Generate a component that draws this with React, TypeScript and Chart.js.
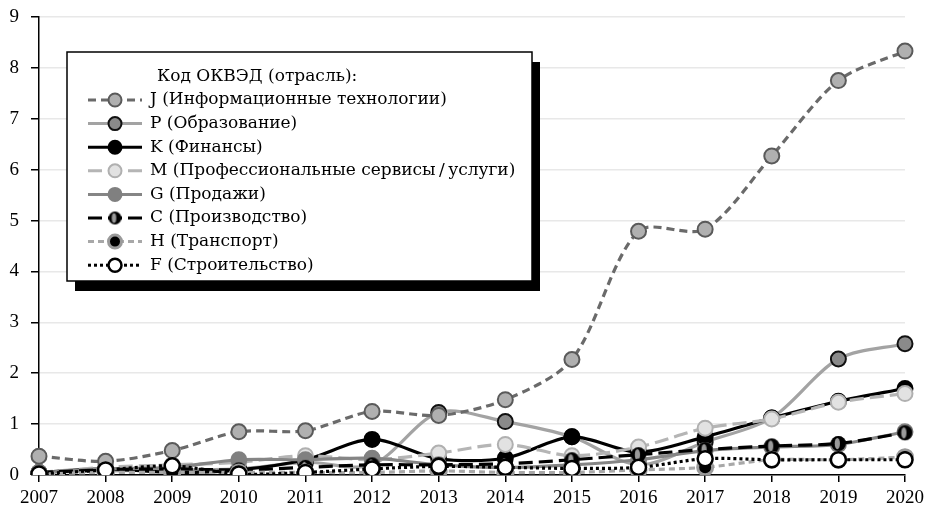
import React, { useEffect, useRef } from "react";
import { Chart, registerables } from "chart.js";

Chart.register(...registerables);

const years = ["2007","2008","2009","2010","2011","2012","2013","2014","2015","2016","2017","2018","2019","2020"];
const yTicks = [0,1,2,3,4,5,6,7,8,9];
const legendTitle = "Код ОКВЭД (отрасль):";

const J = [0.37,0.27,0.48,0.85,0.87,1.25,1.17,1.48,2.27,4.79,4.83,6.27,7.75,8.33];
const P = [0.05,0.08,0.1,0.12,0.25,0.2,1.23,1.05,0.75,0.2,0.65,1.12,2.28,2.58];
const K = [0.05,0.12,0.05,0.1,0.3,0.7,0.32,0.33,0.75,0.45,0.75,1.12,1.45,1.7];
const M = [0.05,0.15,0.2,0.25,0.38,0.3,0.43,0.6,0.38,0.55,0.92,1.1,1.43,1.6];
const G = [0.05,0.12,0.15,0.3,0.3,0.33,0.2,0.15,0.2,0.3,0.48,0.55,0.6,0.85];
const C = [0.05,0.1,0.12,0.1,0.15,0.2,0.2,0.22,0.3,0.4,0.5,0.57,0.62,0.83];
const H = [0.02,0.05,0.05,0.05,0.05,0.05,0.08,0.05,0.05,0.1,0.15,0.3,0.3,0.35];
const F = [0.02,0.1,0.18,0.02,0.05,0.12,0.17,0.15,0.13,0.15,0.32,0.3,0.3,0.3];

const labels = [
  "J (Информационные технологии)",
  "P (Образование)",
  "K (Финансы)",
  "M (Профессиональные сервисы\u2009/\u2009услуги)",
  "G (Продажи)",
  "C (Производство)",
  "H (Транспорт)",
  "F (Строительство)",
];

function makeCPoint(r: number) {
  const c = document.createElement("canvas");
  const s = Math.ceil(r * 2 + 2);
  c.width = s; c.height = s;
  const x = c.getContext("2d")!;
  x.fillStyle = "#000";
  x.beginPath(); x.arc(s / 2, s / 2, r, 0, Math.PI * 2); x.fill();
  x.fillStyle = "#9a9a9a";
  x.beginPath(); x.ellipse(s / 2 - r * 0.15, s / 2, r * 0.35, r * 0.75, 0, 0, Math.PI * 2); x.fill();
  return c;
}

export default function App() {
  const ref = useRef<HTMLCanvasElement>(null);
  useEffect(() => {
    const cPt = makeCPoint(7.5);
    const cPtL = makeCPoint(6.5);
    const styles = [
      { data: J, line: "#6a6a6a", dash: [8, 5], fill: "#b0b0b0", border: "#5a5a5a", bw: 2, order: 1 },
      { data: P, line: "#a3a3a3", dash: [], fill: "#8a8a8a", border: "#111", bw: 2, order: 7 },
      { data: K, line: "#000", dash: [], fill: "#000", border: "#000", bw: 2, order: 6 },
      { data: M, line: "#b5b5b5", dash: [14, 6], fill: "#e2e2e2", border: "#b0b0b0", bw: 2, order: 5 },
      { data: G, line: "#858585", dash: [], fill: "#808080", border: "#808080", bw: 2, order: 4 },
      { data: C, line: "#000", dash: [14, 6], fill: "#000", border: "#000", bw: 0, order: 3, img: true },
      { data: H, line: "#a8a8a8", dash: [6, 4], fill: "#000", border: "#9a9a9a", bw: 3, order: 2 },
      { data: F, line: "#000", dash: [3, 3], fill: "#fff", border: "#000", bw: 2.5, order: 0 },
    ];
    const datasets = styles.map((s, i) => ({
      label: labels[i],
      data: s.data,
      borderColor: s.line,
      borderDash: s.dash,
      borderWidth: 3.2,
      backgroundColor: s.fill,
      pointBackgroundColor: s.fill,
      pointBorderColor: s.border,
      pointBorderWidth: s.bw,
      pointRadius: 7.5,
      pointStyle: (s as any).img ? cPt : "circle",
      tension: 0.3,
      order: s.order,
      fill: false,
    }));

    const legendPlugin = {
      id: "customLegend",
      afterDraw(chart: any) {
        const ctx = chart.ctx as CanvasRenderingContext2D;
        ctx.save();
        const bx = 67, by = 52, bw = 465, bh = 229;
        ctx.fillStyle = "#000";
        ctx.fillRect(bx + 8, by + 10, bw, bh);
        ctx.fillStyle = "#fff";
        ctx.fillRect(bx, by, bw, bh);
        ctx.strokeStyle = "#000";
        ctx.lineWidth = 1.5;
        ctx.strokeRect(bx, by, bw, bh);
        ctx.fillStyle = "#000";
        ctx.font = "17px 'DejaVu Serif'";
        ctx.textBaseline = "middle";
        ctx.textAlign = "left";
        ctx.fillText(legendTitle, 157, 77);
        styles.forEach((s, i) => {
          const y = 100 + i * 23.6;
          ctx.strokeStyle = s.line;
          ctx.lineWidth = 3;
          ctx.setLineDash(s.dash);
          ctx.beginPath(); ctx.moveTo(88, y); ctx.lineTo(142, y); ctx.stroke();
          ctx.setLineDash([]);
          if ((s as any).img) {
            ctx.drawImage(cPtL, 115 - cPtL.width / 2, y - cPtL.height / 2);
          } else {
            ctx.fillStyle = s.fill;
            ctx.beginPath(); ctx.arc(115, y, 6.5, 0, Math.PI * 2); ctx.fill();
            if (s.bw > 0) { ctx.strokeStyle = s.border; ctx.lineWidth = s.bw; ctx.stroke(); }
          }
          ctx.fillStyle = "#000";
          ctx.fillText(labels[i], 150, y);
        });
        ctx.restore();
      },
    };

    const tickFont = { family: "'Liberation Serif'", size: 19 };
    const chart = new Chart(ref.current!, {
      type: "line",
      data: { labels: years, datasets },
      options: {
        responsive: false,
        animation: false,
        layout: { padding: { top: 17, right: 22, left: 0, bottom: 0 } },
        plugins: { legend: { display: false }, tooltip: { enabled: false } },
        scales: {
          x: {
            offset: false,
            grid: { drawOnChartArea: false, drawTicks: true, tickLength: 7, tickColor: "#000", lineWidth: 1.5 },
            border: { color: "#000", width: 1.5 },
            ticks: { font: tickFont, color: "#000", padding: 5, maxRotation: 0, autoSkip: false },
            afterFit: (s: any) => { s.height = 46; s.paddingLeft = 0; s.paddingRight = 0; },
          },
          y: {
            min: 0,
            max: 9,
            afterBuildTicks: (s: any) => { s.ticks = yTicks.map((v) => ({ value: v })); },
            grid: { color: "#e8e8e8", lineWidth: 1.5, tickColor: "#000", tickLength: 8 },
            border: { color: "#000", width: 1.5 },
            ticks: { font: tickFont, color: "#000", padding: 12 },
            afterFit: (s: any) => { s.width = 39; s.paddingTop = 0; s.paddingBottom = 0; },
          },
        },
      },
      plugins: [legendPlugin],
    });
    return () => chart.destroy();
  }, []);
  return (
    <div style={{ position: "fixed", left: 0, top: 0, width: 927, height: 521, background: "#fff" }}>
      <canvas ref={ref} width={927} height={521} />
    </div>
  );
}
